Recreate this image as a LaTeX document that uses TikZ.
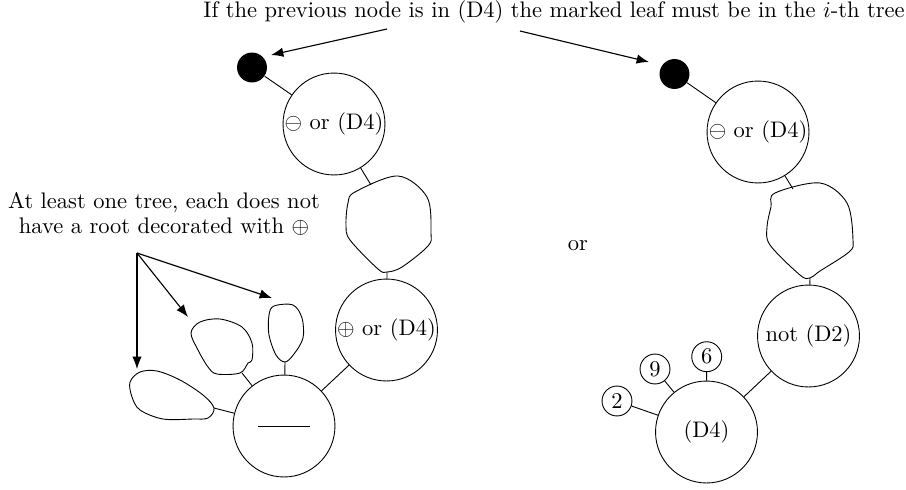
\documentclass[tikz,border=0pt]{standalone}
\usetikzlibrary{arrows.meta}
\begin{document}
\begin{tikzpicture}[x=0.4444pt,y=-0.4444pt,
  bignode/.style={circle,draw,inner sep=0pt,minimum size=45.3pt},
  smallnode/.style={circle,draw,inner sep=0pt,minimum size=13.3pt},
  dotnode/.style={circle,fill=black,inner sep=0pt,minimum size=13.3pt},
  blob/.style={draw},
  edge/.style={draw},
  pointer/.style={draw,line width=0.5pt,-{Latex[length=5.5pt,width=4.2pt]}},
  lbl/.style={inner sep=0pt,align=center}]
\useasboundingbox (0,0) rectangle (906,489);

% texts
\node[lbl] (toptext) at (554,12) {If the previous node is in (D4) the marked leaf must be in the $i$-th tree};
\node[lbl] (lefttext) at (164,214) {At least one tree, each does not\\[-1pt] have a root decorated with $\oplus$};
\node[lbl] (or) at (578,246) {or};

% left structure
\node[dotnode] (dotL) at (252,67.5) {};
\node[bignode] (cL1) at (334,124) {$\ominus$ or (D4)};
\node[bignode] (cL2) at (386.5,330) {$\oplus$ or (D4)};
\node[bignode] (cL3) at (284,426) {\rule{23pt}{0.4pt}};

\draw[blob] plot[smooth cycle,tension=0.55] coordinates {(355,192) (398,176) (427,197) (431,233) (428,246) (402,267) (387,272) (378,269) (350,240) (346,225) (348,203)};
\coordinate (bL1top) at (371,185);
\coordinate (bL1bot) at (387,272);

\draw[blob] plot[smooth cycle,tension=0.55] coordinates {(274,306) (293,305) (302,318) (303,338) (294,354) (285,362) (276,355) (269,335) (269,315)};
\coordinate (bA) at (285,362);
\draw[blob] plot[smooth cycle,tension=0.55] coordinates {(191,333) (200,322) (220,319) (242,327) (252,343) (252,360) (248,363) (240,373) (217,374) (208,367) (198,350)};
\coordinate (bB) at (242,373);
\draw[blob] plot[smooth cycle,tension=0.55] coordinates {(130,382) (140,372) (157,371) (180,380) (203,395) (214,408) (208,418) (193,419) (163,419) (140,410) (132,397)};
\coordinate (bC) at (214,408);

\draw[edge] (dotL) -- (cL1);
\draw[edge] (cL1) -- (bL1top);
\draw[edge] (bL1bot) -- (cL2);
\draw[edge] (cL2) -- (cL3);
\draw[edge] (bA) -- (cL3);
\draw[edge] (bB) -- (cL3);
\draw[edge] (bC) -- (cL3);

% right structure
\node[dotnode] (dotR) at (674.5,74) {};
\node[bignode] (cR1) at (758,132) {$\ominus$ or (D4)};
\node[bignode] (cR2) at (808.5,336) {not (D2)};
\node[bignode] (cR3) at (706.5,432) {(D4)};
\node[smallnode] (s6) at (706.7,356.7) {6};
\node[smallnode] (s9) at (655,369) {9};
\node[smallnode] (s2) at (617,401) {2};

\draw[blob] plot[smooth cycle,tension=0.55] coordinates {(775,193) (820,183) (847,203) (853,240) (849,252) (820,271) (810,278) (800,275) (770,245) (767,227) (771,207)};
\coordinate (bRtop) at (793,189);
\coordinate (bRbot) at (810,278);

\draw[edge] (dotR) -- (cR1);
\draw[edge] (cR1) -- (bRtop);
\draw[edge] (bRbot) -- (cR2);
\draw[edge] (cR2) -- (cR3);
\draw[edge] (s6) -- (cR3);
\draw[edge] (s9) -- (cR3);
\draw[edge] (s2) -- (cR3);

% pointers
\coordinate (pL0) at (387,29);
\coordinate (pL1) at (271,55);
\coordinate (pR0) at (520,31);
\coordinate (pR1) at (649,62);
\draw[pointer] (pL0) -- (pL1);
\draw[pointer] (pR0) -- (pR1);

\coordinate (fan) at (137,253);
\coordinate (tC) at (137,369);
\coordinate (tB) at (188,317);
\coordinate (tA) at (272,298);
\draw[pointer] (fan) -- (tC);
\draw[pointer] (fan) -- (tB);
\draw[pointer] (fan) -- (tA);
\end{tikzpicture}
\end{document}
